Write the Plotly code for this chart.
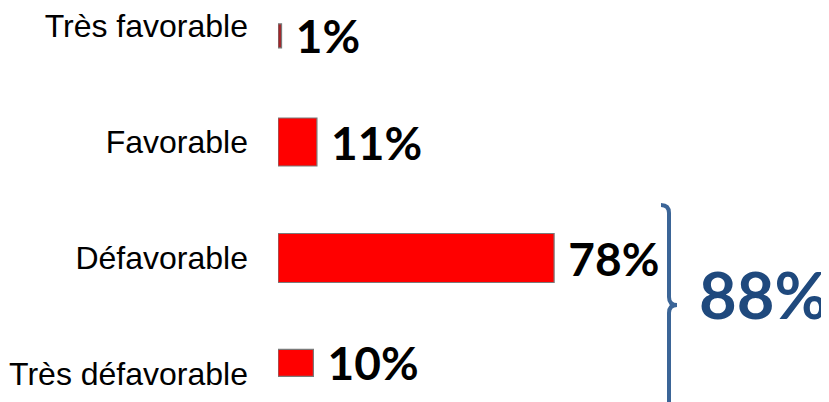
import plotly.graph_objects as go

categories = ["Très favorable", "Favorable", "Défavorable", "Très défavorable"]
values = [1, 11, 78, 10]
total_label = "88%"

# the page body adds an 8px margin, so the figure is 8px smaller
# and every target pixel (screen coords) is shifted back by 8
OFF = 8
W, H = 829 - OFF, 402 - OFF
L = 278 - OFF  # left edge of plot area


def px(x, y):
    # screen pixel -> paper coordinates
    return (x - OFF - L) / (W - L), 1 - (y - OFF) / H


fig = go.Figure()
fig.add_trace(go.Bar(
    y=categories, x=values, orientation="h",
    width=[0.207, 0.414, 0.422, 0.233],
    offset=[-0.018, -0.207, -0.211, -0.212],
    marker=dict(color=["#a3262a", "#ff0000", "#ff0000", "#ff0000"],
                line=dict(color="#7a7a7a", width=1.2)),
    texttemplate="\u00a0%{x}%", textposition="outside", cliponaxis=False,
    constraintext="none",
    textfont=dict(family="Lato", size=46, color="#000000", weight="bold"),
    hoverinfo="skip",
))

# bracket around the unfavourable answers
pts = [px(661, 205), px(669, 205), px(669, 213), px(669, 297),
       px(669, 305), px(677, 305), px(669, 305), px(669, 313), px(669, 404)]
path = (f"M {pts[0][0]},{pts[0][1]} Q {pts[1][0]},{pts[1][1]} {pts[2][0]},{pts[2][1]} "
        f"L {pts[3][0]},{pts[3][1]} Q {pts[4][0]},{pts[4][1]} {pts[5][0]},{pts[5][1]} "
        f"Q {pts[6][0]},{pts[6][1]} {pts[7][0]},{pts[7][1]} L {pts[8][0]},{pts[8][1]}")
fig.add_shape(type="path", path=path, xref="paper", yref="paper",
              line=dict(color="#3b6597", width=4))

tx, ty = px(697, 294)
fig.add_annotation(x=tx, y=ty, xref="paper", yref="paper", text=total_label,
                   showarrow=False, xanchor="left", yanchor="middle",
                   font=dict(family="Lato", size=65, color="#1f497d", weight="bold"))

# 116 px per category, first category centred 26 px from top of screen
c0 = 26 - OFF
y_top = -c0 / 116
y_bot = (H - c0) / 116
fig.update_layout(
    width=W, height=H,
    margin=dict(l=L, r=0, t=0, b=0),
    paper_bgcolor="white", plot_bgcolor="white",
    showlegend=False,
    xaxis=dict(range=[0, (W - L) / 3.54], visible=False, automargin=False),
    yaxis=dict(range=[y_bot, y_top], showgrid=False, zeroline=False,
               showline=False, ticks="", ticklabelstandoff=29, automargin=False,
               tickfont=dict(family="Liberation Sans, Arial", size=32, color="#000000")),
)

fig.write_html("out.html")
